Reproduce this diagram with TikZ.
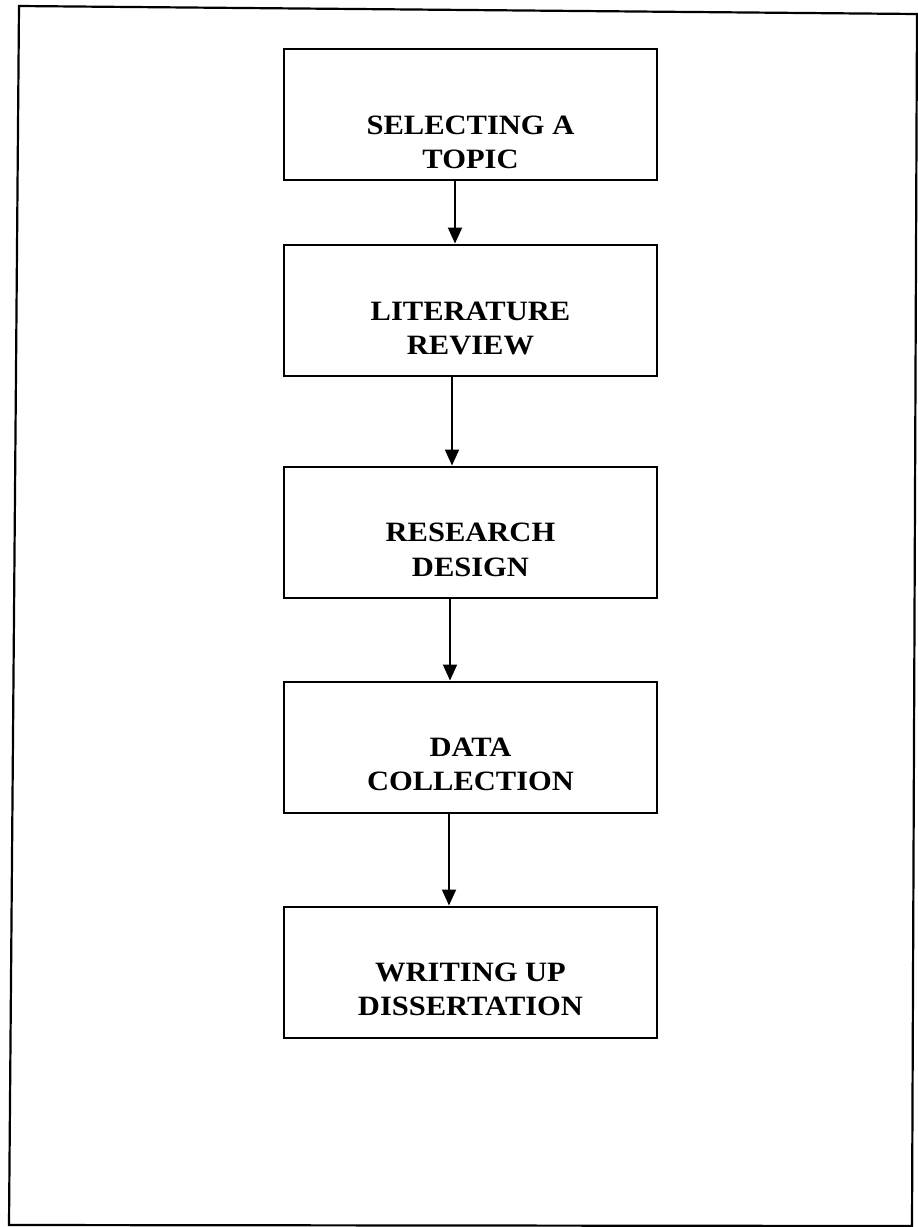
\documentclass[tikz,border=0pt]{standalone}
\usepackage{fontspec}
\usepackage{graphicx}
\setmainfont{Liberation Serif}
\usetikzlibrary{arrows.meta}

% slightly widened capitals, as set in the flow chart
\newcommand\wide[1]{\scalebox{1.09}[1]{#1}}

\begin{document}
\begin{tikzpicture}[x=1pt,y=-1pt,
  stagebox/.style={draw=black,line width=2pt,rectangle,minimum width=373pt,minimum height=131pt,inner sep=0pt},
  stagetext/.style={align=center,inner sep=0pt,font=\fontsize{28}{34.5}\selectfont\bfseries},
  flow/.style={line width=2pt,-{Triangle[width=14pt,length=16pt]}},
  frame/.style={line width=2.2pt,line join=miter}]

  \useasboundingbox (0,0) rectangle (918,1227);
  \fill[white] (0,0) rectangle (918,1227);

  % outer page frame
  \draw[frame] (19,6) -- (917,14) -- (912,1226) -- (9,1225) -- cycle;

  % the five stages
  \node[stagebox] (s1) at (470.5,114) {};
  \node[stagebox] (s2) at (470.5,310) {};
  \node[stagebox] (s3) at (470.5,532) {};
  \node[stagebox] (s4) at (470.5,747) {};
  \node[stagebox] (s5) at (470.5,972) {};

  % labels sit a little below the middle of each box
  \node[stagetext] (t1) at ([yshift=-28.5pt]s1.center) {\wide{SELECTING A}\\\wide{TOPIC}};
  \node[stagetext] (t2) at ([yshift=-18.5pt]s2.center) {\wide{LITERATURE}\\\wide{REVIEW}};
  \node[stagetext] (t3) at ([yshift=-18pt]s3.center) {\wide{RESEARCH}\\\wide{DESIGN}};
  \node[stagetext] (t4) at ([yshift=-17.5pt]s4.center) {\wide{DATA}\\\wide{COLLECTION}};
  \node[stagetext] (t5) at ([yshift=-17.5pt]s5.center) {\wide{WRITING UP}\\\wide{DISSERTATION}};

  % connectors between stages
  \draw[flow] ([xshift=-15.5pt]s1.south) -- ([xshift=-15.5pt]s2.north);
  \draw[flow] ([xshift=-18.5pt]s2.south) -- ([xshift=-18.5pt]s3.north);
  \draw[flow] ([xshift=-20.5pt]s3.south) -- ([xshift=-20.5pt]s4.north);
  \draw[flow] ([xshift=-21.5pt]s4.south) -- ([xshift=-21.5pt]s5.north);
\end{tikzpicture}
\end{document}
